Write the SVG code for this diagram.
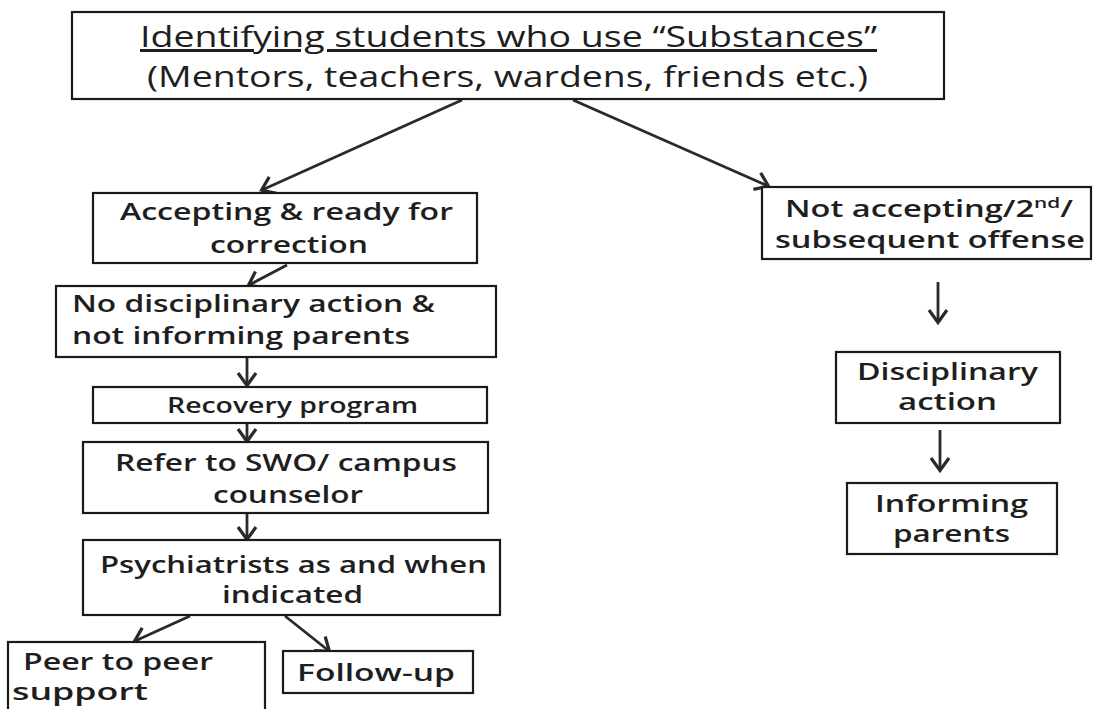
<svg xmlns="http://www.w3.org/2000/svg" width="1094" height="709" viewBox="0 0 1094 709">
<style>
.box{fill:#fff;stroke:#1a1a1a;stroke-width:2.2}
.t{font-family:"Open Sans","DejaVu Sans",sans-serif;fill:#1e1e1e}
.n{font-size:23.5px;font-weight:600}
.c{stroke:#2a2a2a;stroke-width:2.8;fill:none}
</style>
<defs>
<marker id="ah" markerWidth="20" markerHeight="22" refX="14" refY="11" orient="auto" markerUnits="userSpaceOnUse">
<path d="M2,2 L14.5,11 L2,20" fill="none" stroke="#2a2a2a" stroke-width="3.2" stroke-linejoin="miter"/>
</marker>
</defs>
<rect width="1094" height="709" fill="#fff"/>
<g id="connectors">
<line class="c" x1="462" y1="100" x2="262" y2="190" marker-end="url(#ah)"/>
<line class="c" x1="573" y1="100" x2="768" y2="186" marker-end="url(#ah)"/>
<line class="c" x1="287" y1="265" x2="249" y2="285" marker-end="url(#ah)"/>
<line class="c" x1="247" y1="358" x2="247" y2="385" marker-end="url(#ah)"/>
<line class="c" x1="247" y1="418" x2="247" y2="441" marker-end="url(#ah)"/>
<line class="c" x1="247" y1="505" x2="247" y2="539" marker-end="url(#ah)"/>
<line class="c" x1="190" y1="616" x2="135" y2="641" marker-end="url(#ah)"/>
<line class="c" x1="285" y1="616" x2="329" y2="651" marker-end="url(#ah)"/>
<line class="c" x1="938" y1="282" x2="938" y2="322" marker-end="url(#ah)"/>
<line class="c" x1="940" y1="430" x2="940" y2="470" marker-end="url(#ah)"/>
</g>
<g id="n-identify">
<rect class="box" x="72" y="12" width="872" height="87"/>
<text class="t" x="140" y="47" font-size="30" textLength="737" lengthAdjust="spacingAndGlyphs" text-decoration="underline">Identifying students who use “Substances”</text>
<text class="t" x="147" y="87" font-size="30" textLength="721" lengthAdjust="spacingAndGlyphs">(Mentors, teachers, wardens, friends etc.)</text>
</g>
<g id="n-accepting">
<rect class="box" x="93" y="193" width="384" height="70"/>
<text class="t n" x="120" y="220" textLength="333" lengthAdjust="spacingAndGlyphs">Accepting &amp; ready for</text>
<text class="t n" x="210" y="253" textLength="158" lengthAdjust="spacingAndGlyphs">correction</text>
</g>
<g id="n-nodisc">
<rect class="box" x="56" y="286" width="440" height="71"/>
<text class="t n" x="72" y="312" textLength="363" lengthAdjust="spacingAndGlyphs">No disciplinary action &amp;</text>
<text class="t n" x="72" y="344" textLength="338" lengthAdjust="spacingAndGlyphs">not informing parents</text>
</g>
<g id="n-recovery">
<rect class="box" x="93" y="387" width="394" height="36"/>
<text class="t" x="167" y="413" font-size="21" font-weight="600" textLength="251" lengthAdjust="spacingAndGlyphs">Recovery program</text>
</g>
<g id="n-refer">
<rect class="box" x="83" y="442" width="405" height="71"/>
<text class="t n" x="115" y="471" textLength="342" lengthAdjust="spacingAndGlyphs">Refer to SWO/ campus</text>
<text class="t n" x="213" y="503" textLength="150" lengthAdjust="spacingAndGlyphs">counselor</text>
</g>
<g id="n-psych">
<rect class="box" x="83" y="540" width="417" height="75"/>
<text class="t n" x="100" y="573" textLength="387" lengthAdjust="spacingAndGlyphs">Psychiatrists as and when</text>
<text class="t n" x="222" y="603" textLength="141" lengthAdjust="spacingAndGlyphs">indicated</text>
</g>
<g id="n-peer">
<rect class="box" x="8" y="642" width="257" height="80"/>
<text class="t n" x="23" y="670" textLength="190" lengthAdjust="spacingAndGlyphs">Peer to peer</text>
<text class="t n" x="12" y="700" textLength="136" lengthAdjust="spacingAndGlyphs">support</text>
</g>
<g id="n-follow">
<rect class="box" x="283" y="651" width="190" height="42"/>
<text class="t n" x="297" y="681" textLength="158" lengthAdjust="spacingAndGlyphs">Follow-up</text>
</g>
<g id="n-notaccepting">
<rect class="box" x="762" y="187" width="329" height="72"/>
<text class="t n" x="785" y="217" textLength="288" lengthAdjust="spacingAndGlyphs">Not accepting/2<tspan font-size="15" dy="-9">nd</tspan><tspan dy="9">/</tspan></text>
<text class="t n" x="775" y="248" textLength="310" lengthAdjust="spacingAndGlyphs">subsequent offense</text>
</g>
<g id="n-disc">
<rect class="box" x="836" y="352" width="224" height="71"/>
<text class="t n" x="857" y="380" textLength="181" lengthAdjust="spacingAndGlyphs">Disciplinary</text>
<text class="t n" x="898" y="410" textLength="99" lengthAdjust="spacingAndGlyphs">action</text>
</g>
<g id="n-inform">
<rect class="box" x="847" y="483" width="210" height="71"/>
<text class="t n" x="875" y="512" textLength="153" lengthAdjust="spacingAndGlyphs">Informing</text>
<text class="t n" x="893" y="542" textLength="117" lengthAdjust="spacingAndGlyphs">parents</text>
</g>
</svg>
